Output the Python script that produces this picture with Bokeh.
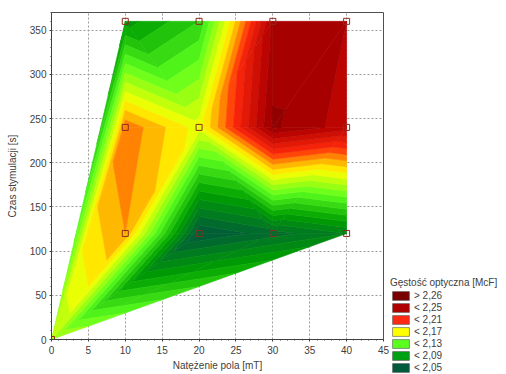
import numpy as np
from bokeh.plotting import figure
from bokeh.layouts import row
from bokeh.models import (ColumnDataSource, Range1d, SingleIntervalTicker,
                          Legend, LegendItem)
from bokeh.embed import file_html
from bokeh.resources import INLINE

# ---------------- data ----------------
# surface readings: field strength [mT], stimulation time [s], optical density [McF]
field_x = [0, 10, 10, 10, 20, 20, 20, 30, 30, 30, 40, 40, 40]
field_y = [0, 120, 240, 360, 120, 240, 360, 120, 240, 360, 120, 240, 360]
field_z = [2.150, 2.190, 2.198, 2.085, 2.040, 2.165, 2.110, 2.055, 2.262, 2.252, 2.070, 2.245, 2.250]
measured = [True, True, True, True, True, True, True, True, False, True, True, True, True]

# triangulation of the readings (indices into the arrays above)
triangles = [(0, 1, 2), (0, 2, 3), (0, 1, 4), (0, 4, 7), (0, 7, 10),
             (1, 4, 5), (1, 5, 2), (4, 7, 5), (5, 7, 8), (7, 10, 11), (7, 11, 8),
             (2, 5, 3), (3, 5, 6), (5, 8, 9), (5, 9, 6), (8, 11, 12), (8, 12, 9)]

legend_labels = ["> 2,26", "< 2,25", "< 2,21", "< 2,17", "< 2,13", "< 2,09", "< 2,05"]
legend_colors = ["#7a0000", "#b00000", "#ff2a14", "#ffff00", "#5aff1e", "#00a014", "#005a3c"]

x_ticks_interval = 5
y_ticks_interval = 50

# ---------------- styling ----------------
FONT = "Liberation Sans"
TXT = "#404040"
pal_v = [2.03, 2.05, 2.09, 2.13, 2.17, 2.19, 2.21, 2.25, 2.27]
pal_c = [(0, 80, 60), (0, 100, 50), (0, 160, 0), (90, 255, 30), (255, 255, 0),
         (255, 160, 0), (255, 40, 10), (178, 0, 0), (135, 0, 0)]


def color_of(v):
    r = np.interp(v, pal_v, [c[0] for c in pal_c])
    g = np.interp(v, pal_v, [c[1] for c in pal_c])
    b = np.interp(v, pal_v, [c[2] for c in pal_c])
    return "#%02x%02x%02x" % (int(round(r)), int(round(g)), int(round(b)))


levels = list(np.round(np.arange(2.00, 2.3001, 0.01), 3))
edges = [1.0] + levels + [3.0]
band_colors = []
for k in range(len(edges) - 1):
    lo, hi = edges[k], edges[k + 1]
    if k == 0:
        mid = hi
    elif k == len(edges) - 2:
        mid = lo
    else:
        mid = 0.5 * (lo + hi)
    band_colors.append(color_of(mid))


def clip(poly, level, above):
    out = []
    n = len(poly)
    for i in range(n):
        p_ = poly[i]
        q_ = poly[(i + 1) % n]
        dp = (p_[2] - level) if above else (level - p_[2])
        dq = (q_[2] - level) if above else (level - q_[2])
        if dp >= 0:
            out.append(p_)
        if (dp >= 0) != (dq >= 0):
            t = dp / (dp - dq)
            out.append(tuple(p_[j] + t * (q_[j] - p_[j]) for j in range(3)))
    return out


def area(poly):
    a = 0.0
    for i in range(len(poly)):
        x1, y1 = poly[i][0], poly[i][1]
        x2, y2 = poly[(i + 1) % len(poly)][0], poly[(i + 1) % len(poly)][1]
        a += x1 * y2 - x2 * y1
    return abs(a) / 2


xs, ys, cols = [], [], []
for tri in triangles:
    poly = [(field_x[i], field_y[i], field_z[i]) for i in tri]
    zmin = min(v[2] for v in poly)
    zmax = max(v[2] for v in poly)
    for k in range(len(edges) - 1):
        lo, hi = edges[k], edges[k + 1]
        if zmax < lo or zmin >= hi:
            continue
        pp = clip(poly, lo, True)
        if len(pp) < 3:
            continue
        pp = clip(pp, hi, False)
        if len(pp) < 3 or area(pp) < 1e-6:
            continue
        xs.append([v[0] for v in pp])
        ys.append([v[1] for v in pp])
        cols.append(band_colors[k])

band_src = ColumnDataSource(dict(xs=xs, ys=ys, color=cols))

mx = [x for x, m in zip(field_x, measured) if m]
my = [y for y, m in zip(field_y, measured) if m]

# ---------------- main figure ----------------
p = figure(width=389, height=374, output_backend="svg", toolbar_location=None,
           x_range=Range1d(0, 45), y_range=Range1d(0, 370),
           min_border_left=51, min_border_right=6, min_border_top=12, min_border_bottom=35)
p.background_fill_color = "white"
p.border_fill_color = "white"
p.outline_line_color = "#505050"

xt = SingleIntervalTicker(interval=x_ticks_interval, num_minor_ticks=5)
yt = SingleIntervalTicker(interval=y_ticks_interval, num_minor_ticks=5)
p.xaxis.ticker = xt
p.yaxis.ticker = yt
p.xgrid.ticker = xt
p.ygrid.ticker = yt
for g in (p.xgrid, p.ygrid):
    g.grid_line_color = "#9a9a9a"
    g.grid_line_dash = "2 2"
    g.grid_line_width = 1

for ax in (p.xaxis[0], p.yaxis[0]):
    ax.axis_line_color = "#404040"
    ax.major_tick_line_color = "#404040"
    ax.minor_tick_line_color = "#404040"
    ax.major_tick_out = 2
    ax.major_tick_in = 0
    ax.minor_tick_out = 1
    ax.minor_tick_in = 0
    ax.major_label_text_font = FONT
    ax.major_label_text_font_size = "10px"
    ax.major_label_text_color = TXT
    ax.axis_label_text_font = FONT
    ax.axis_label_text_font_size = "10px"
    ax.axis_label_text_font_style = "normal"
    ax.axis_label_text_color = TXT

p.xaxis.major_label_standoff = 4
p.xaxis.axis_label = "Natężenie pola [mT]"
p.xaxis.axis_label_standoff = 3
p.yaxis.major_label_standoff = 3
p.yaxis.axis_label = "Czas stymulacji [s]"
p.yaxis.axis_label_standoff = 9

p.patches(xs="xs", ys="ys", source=band_src, fill_color="color", line_color="color",
          line_width=0.6)

p.scatter(mx, my, marker="square", size=6, fill_color=None, line_color="#8c2d1e",
          line_width=1)

# ---------------- legend figure ----------------
q = figure(width=117, height=374, output_backend="svg", toolbar_location=None,
           x_range=Range1d(0, 1), y_range=Range1d(0, 1),
           min_border_left=0, min_border_right=0, min_border_top=0, min_border_bottom=0)
q.axis.visible = False
q.grid.visible = False
q.outline_line_color = None
q.background_fill_color = "white"
q.border_fill_color = "white"
try:
    q.frame_align = False
    p.frame_align = False
except Exception:
    pass

nan = float("nan")
leg_renderers = [q.quad(left=[nan], right=[nan], top=[nan], bottom=[nan], fill_color=c,
                        line_color="#505050", line_width=0.6) for c in legend_colors]
legend = Legend(items=[LegendItem(label=l, renderers=[r]) for l, r in zip(legend_labels, leg_renderers)],
                location="bottom_left", title="Gęstość optyczna [McF]",
                title_text_font=FONT, title_text_font_size="10px", title_text_font_style="normal",
                title_text_color=TXT, title_standoff=2,
                label_text_font=FONT, label_text_font_size="10px", label_text_color=TXT,
                glyph_width=21, glyph_height=11, label_height=11, label_standoff=3,
                spacing=1, padding=0, margin=1, border_line_color=None,
                background_fill_color=None, background_fill_alpha=0)
q.add_layout(legend)

layout = row(p, q)
open("out.html", "w").write(file_html(layout, INLINE))
